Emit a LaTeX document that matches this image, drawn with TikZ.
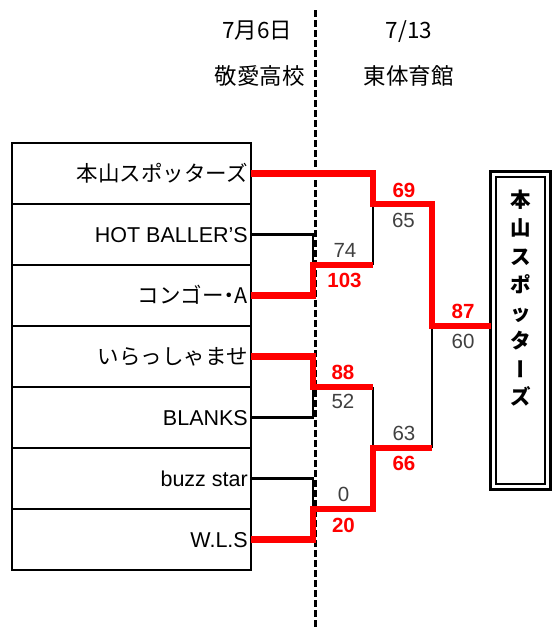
\documentclass[tikz,border=0pt]{standalone}
\usepackage{fontspec}
\setmainfont{Liberation Sans}
\newfontfamily\jp{Noto Sans CJK JP}
\usetikzlibrary{calc}
\definecolor{scoregray}{HTML}{404040}
\definecolor{winred}{HTML}{FF0000}
\begin{document}
\begin{tikzpicture}[x=1pt,y=-1pt,
 rowbox/.style={draw, line width=2.5pt, minimum width=239pt, minimum height=61pt, inner sep=0pt, outer sep=0pt},
 teamname/.style={anchor=base east, inner sep=0pt, font=\fontsize{21.5}{24}\selectfont},
 jpname/.style={anchor=base east, inner sep=0pt, font=\jp\fontsize{21.5}{24}\selectfont},
 loseline/.style={draw=black, line width=2.3pt},
 winline/.style={draw=winred, line width=6.5pt, line join=miter},
 dashline/.style={line width=3pt, dash pattern=on 7pt off 3pt},
 winscore/.style={anchor=base, inner sep=0pt, text=winred, font=\fontsize{20.5}{22}\selectfont\bfseries},
 losescore/.style={anchor=base, inner sep=0pt, text=scoregray, font=\fontsize{20.5}{22}\selectfont},
 header/.style={anchor=base, inner sep=0pt, font=\jp\fontsize{22.5}{25}\selectfont},
 vchar/.style={inner sep=0pt, font=\jp\bfseries\fontsize{20.5}{22}\selectfont, text height=18pt, text depth=2.5pt},
]
\useasboundingbox (0,0) rectangle (553,630);

% headers
\node[header] (d1) at (257,38) {7月6日};
\node[header] (v1) at (259.5,84) {敬愛高校};
\node[header] (d2) at (409,38) {7/13};
\node[header] (v2) at (408.5,84) {東体育館};

% dashed divider
\coordinate (dtop) at (315.5,10);
\coordinate (dbot) at (315.5,630);
\draw[dashline] (dtop) -- (dbot);

% team rows
\foreach \i in {1,...,7}{
  \node[rowbox] (r\i) at (131.5,{112.5+61*\i}) {};
}
\node[jpname] (n1) at ([xshift=-3pt,yshift=-8pt]r1.east) {本山スポッターズ};
\node[teamname] (n2) at ([xshift=-3pt,yshift=-7.5pt]r2.east) {HOT BALLER’S};
\node[jpname] (n3) at ([xshift=-3pt,yshift=-8pt]r3.east) {コンゴー{\kern-0.25em}・{\kern-0.25em}A};
\node[jpname] (n4) at ([xshift=-3pt,yshift=-8pt]r4.east) {いらっしゃませ};
\node[teamname] (n5) at ([xshift=-3pt,yshift=-7.5pt]r5.east) {BLANKS};
\node[teamname] (n6) at ([xshift=-3pt,yshift=-7.5pt]r6.east) {buzz star};
\node[teamname] (n7) at ([xshift=-3pt,yshift=-7.5pt]r7.east) {W.L.S};

% final box
\node[draw, line width=3pt, minimum width=60pt, minimum height=318pt, inner sep=0pt, outer sep=0pt] (final) at (520.5,330.5) {};
\node[draw, line width=2.3pt, minimum width=49pt, minimum height=307pt, inner sep=0pt] (finalin) at (final.center) {};
\node[vchar] (w1) at (520.5,200) {本};
\node[vchar] (w2) at (520.5,228.1) {山};
\node[vchar] (w3) at (520.5,256.3) {ス};
\node[vchar] (w4) at (520.5,284.4) {ポ};
\node[vchar] (w5) at (520.5,312.6) {ッ};
\node[vchar] (w6) at (520.5,340.7) {タ};
\node[vchar, rotate=90] (w7) at (520.5,368.9) {ー};
\node[vchar] (w8) at (520.5,397) {ズ};

% junctions
\coordinate (m1) at (313,265);
\coordinate (m2) at (313,387);
\coordinate (m3) at (313,509);
\coordinate (s1) at (373,204);
\coordinate (s2) at (373,448);
\coordinate (fj) at (432,326);

% losing paths
\draw[loseline] (r2.east) -- (m1 |- r2.east) -- (m1);
\draw[loseline] (s1 |- m1) -- (s1);
\draw[loseline] (r5.east) -- (m2 |- r5.east) -- (m2);
\draw[loseline] (s2 |- m2) -- (s2);
\draw[loseline] (r6.east) -- (m3 |- r6.east) -- (m3);
\draw[loseline] (fj |- s2) -- (fj);

% winning paths
\draw[winline] (r1.east) -- (s1 |- r1.east) -- (s1) -- (fj |- s1) -- (fj) -- (fj -| final.west);
\draw[winline] (r3.east) -- (m1 |- r3.east) -- (m1) -- (s1 |- m1);
\draw[winline] (r4.east) -- (m2 |- r4.east) -- (m2) -- (s2 |- m2);
\draw[winline] (r7.east) -- (m3 |- r7.east) -- (m3) -- (s2 |- m3) -- (s2) -- (fj |- s2);

% scores
\node[losescore] (sc74) at (345,257) {74};
\node[winscore] (sc103) at (344.5,287) {103};
\node[winscore] (sc69) at (404,197) {69};
\node[losescore] (sc65) at (403.5,227) {65};
\node[winscore] (sc87) at (463,318) {87};
\node[losescore] (sc60) at (463,348) {60};
\node[winscore] (sc88) at (343,379) {88};
\node[losescore] (sc52) at (343,408) {52};
\node[losescore] (sc63) at (404,440) {63};
\node[winscore] (sc66) at (404,470) {66};
\node[losescore] (sc0) at (343.5,501) {0};
\node[winscore] (sc20) at (343.5,532) {20};
\end{tikzpicture}
\end{document}
